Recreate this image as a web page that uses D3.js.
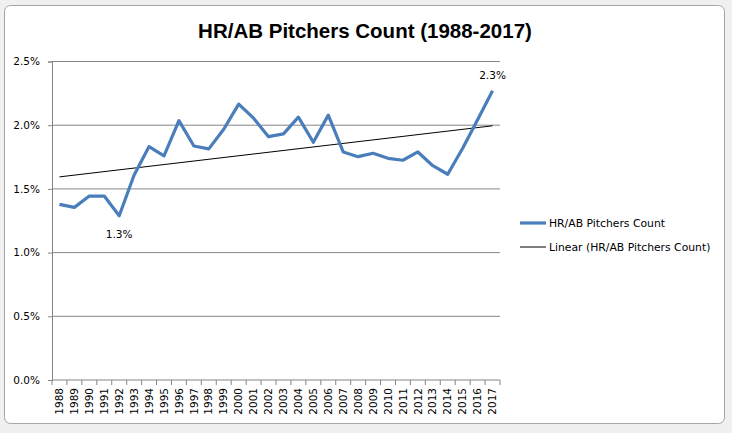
<!DOCTYPE html>
<html>
<head>
<meta charset="utf-8">
<script src="https://cdn.jsdelivr.net/npm/d3@7"></script>
<style>
  body { margin: 0; background: #f0f0f0; }
  svg { display: block; }
</style>
</head>
<body>
<div id="chart"></div>
<script>
// values (percent)
var years = ["1988","1989","1990","1991","1992","1993","1994","1995","1996","1997",
             "1998","1999","2000","2001","2002","2003","2004","2005","2006","2007",
             "2008","2009","2010","2011","2012","2013","2014","2015","2016","2017"];
var hrab = [1.379,1.355,1.444,1.444,1.289,1.609,1.832,1.759,2.036,1.837,
            1.814,1.968,2.165,2.055,1.910,1.932,2.063,1.866,2.079,1.790,
            1.753,1.780,1.740,1.725,1.790,1.682,1.615,1.819,2.042,2.270];
var yTicks = [0, 0.5, 1.0, 1.5, 2.0, 2.5];
var labelled = ["1992", "2017"];
var seriesName = "HR/AB Pitchers Count";
var trendName = "Linear (HR/AB Pitchers Count)";
var title = "HR/AB Pitchers Count (1988-2017)";

var W = 732, H = 433;
var plot = {left: 52, right: 500, top: 61.5, bottom: 380};

var svg = d3.select("#chart").append("svg")
    .attr("width", W)
    .attr("height", H);

// excel chart area
svg.append("rect")
    .attr("x", 4.5).attr("y", 5.5)
    .attr("width", 720).attr("height", 418)
    .attr("rx", 6)
    .style("fill", "#fff")
    .style("stroke", "#a6a6a6");

var x = d3.scaleBand()
    .domain(years)
    .range([plot.left, plot.right]);

var y = d3.scaleLinear()
    .domain([0, 2.5])
    .range([plot.bottom, plot.top]);

var cx = d => x(d) + x.bandwidth() / 2;

// gridlines
svg.append("g")
    .selectAll("line")
    .data(yTicks.slice(1))
    .enter()
    .append("line")
    .attr("x1", plot.left).attr("x2", plot.right)
    .attr("y1", d => y(d)).attr("y2", d => y(d))
    .style("stroke", "#868686")
    .style("stroke-width", 1);

// y axis
var yAxis = svg.append("g")
    .attr("transform", "translate(" + plot.left + ",0)")
    .call(d3.axisLeft(y).tickValues(yTicks).tickSize(4).tickPadding(8)
        .tickFormat(d => d.toFixed(1) + "%"));
yAxis.select(".domain").style("stroke", "#868686");
yAxis.selectAll(".tick line").style("stroke", "#868686");
yAxis.selectAll("text")
    .style("font-family", "DejaVu Sans")
    .style("font-size", "10.5px")
    .style("fill", "#000");

// x axis: ticks between categories
var xg = svg.append("g");
xg.append("line")
    .attr("x1", plot.left).attr("x2", plot.right)
    .attr("y1", plot.bottom).attr("y2", plot.bottom)
    .style("stroke", "#868686");
xg.selectAll("line.tk")
    .data(years.concat(["end"]))
    .enter()
    .append("line")
    .attr("class", "tk")
    .attr("x1", (d, i) => i < years.length ? x(d) : plot.right)
    .attr("x2", (d, i) => i < years.length ? x(d) : plot.right)
    .attr("y1", plot.bottom).attr("y2", plot.bottom + 5)
    .style("stroke", "#868686");
xg.selectAll("text")
    .data(years)
    .enter()
    .append("text")
    .attr("transform", d => "translate(" + cx(d) + "," + (plot.bottom + 8) + ") rotate(-90)")
    .attr("dy", "0.35em")
    .attr("text-anchor", "end")
    .style("font-family", "DejaVu Sans")
    .style("font-size", "10.5px")
    .text(d => d);

// linear trend, least squares like excel
var n = hrab.length;
var mx = d3.mean(hrab, (v, i) => i), my = d3.mean(hrab);
var slope = d3.sum(hrab, (v, i) => (i - mx) * (v - my)) / d3.sum(hrab, (v, i) => (i - mx) * (i - mx));
var icpt = my - slope * mx;
svg.append("line")
    .attr("x1", cx(years[0])).attr("y1", y(icpt))
    .attr("x2", cx(years[n - 1])).attr("y2", y(icpt + slope * (n - 1)))
    .style("stroke", "#000")
    .style("stroke-width", 1);

// series line
var line = d3.line()
    .x((d, i) => cx(years[i]))
    .y(d => y(d));
svg.append("path")
    .datum(hrab)
    .attr("d", line)
    .style("fill", "none")
    .style("stroke", "#4a7ebb")
    .style("stroke-width", 3.2)
    .style("stroke-linejoin", "round");

// data labels
svg.selectAll("text.dl")
    .data(labelled)
    .enter()
    .append("text")
    .attr("class", "dl")
    .attr("x", d => cx(d))
    .attr("y", d => {
        var v = hrab[years.indexOf(d)];
        return d == "1992" ? y(v) + 22 : y(v) - 12;
    })
    .attr("text-anchor", "middle")
    .style("font-family", "DejaVu Sans")
    .style("font-size", "10.5px")
    .text(d => hrab[years.indexOf(d)].toFixed(1) + "%");

// title
svg.append("text")
    .attr("x", 365).attr("y", 38)
    .attr("text-anchor", "middle")
    .style("font-family", "Liberation Sans")
    .style("font-weight", "bold")
    .style("font-size", "20.5px")
    .text(title);

// legend
var legend = svg.append("g").attr("transform", "translate(520,223)");
legend.append("line")
    .attr("x1", 0).attr("x2", 26).attr("y1", 0).attr("y2", 0)
    .style("stroke", "#4a7ebb").style("stroke-width", 3.2);
legend.append("line")
    .attr("x1", 0).attr("x2", 26).attr("y1", 24).attr("y2", 24)
    .style("stroke", "#000").style("stroke-width", 1);
legend.selectAll("text")
    .data([seriesName, trendName])
    .enter()
    .append("text")
    .attr("x", 29)
    .attr("y", (d, i) => i * 24)
    .attr("dy", "0.35em")
    .style("font-family", "DejaVu Sans")
    .style("font-size", "10.8px")
    .text(d => d);
</script>
</body>
</html>
